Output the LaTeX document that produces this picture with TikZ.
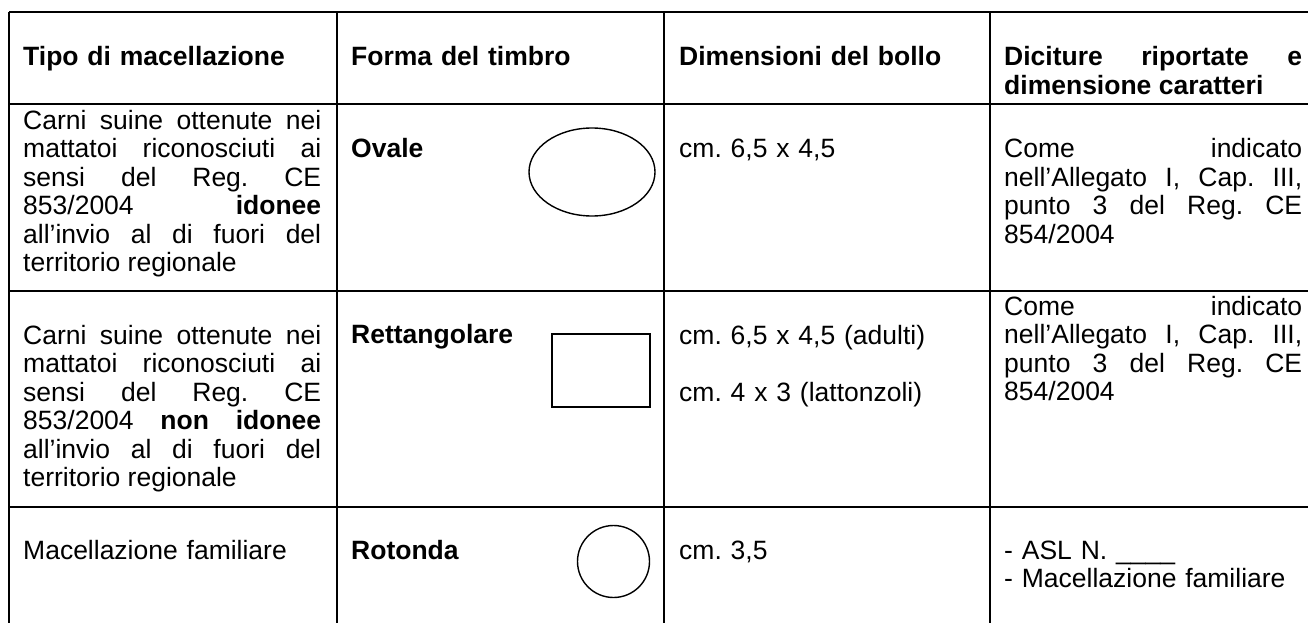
\documentclass[tikz,border=0pt]{standalone}
\usepackage{fontspec}
\setmainfont{Liberation Sans}
\usetikzlibrary{shapes.geometric}
\tolerance=10000
\frenchspacing
\definecolor{rulegray}{RGB}{0,0,0}

\begin{document}
\begin{tikzpicture}[x=1pt, y=-1pt,
    cell/.style={anchor=base west, inner sep=0pt, text width=298pt, align=left,
                 font=\fontsize{26.5}{28.5}\selectfont},
    head/.style={cell, font=\fontsize{26.5}{28.5}\selectfont\bfseries},
    para/.style={cell, align=justify},
    stamp/.style={draw=rulegray, line width=1.4pt, inner sep=0pt}]
    \useasboundingbox (0,0) rectangle (1308,623);

    % Grid
    \foreach \y in {12,104,291,507} {
        \draw[rulegray, line width=2pt] (9,\y) -- (1308,\y);
    }
    \foreach \x in {9,337,664,990} {
        \draw[rulegray, line width=2pt] (\x,12) -- (\x,623);
    }

    % Header
    \node[head] (htipo) at (23,66) {Tipo di macellazione};
    \node[head] (hforma) at (351,66) {Forma del timbro};
    \node[head] (hdim) at (679,66) {Dimensioni del bollo};
    \node[head, align=justify] (hdic) at (1004,66) {Diciture riportate e\linebreak dimensione caratteri};

    % Row 1
    \node[para] (tipoA) at (23,129) {Carni suine ottenute nei\linebreak
        mattatoi riconosciuti ai\linebreak sensi del Reg. CE\linebreak
        853/2004 \textbf{idonee}\linebreak all’invio al di fuori del\linebreak
        territorio regionale};
    \node[head] (formaA) at (351,157.5) {Ovale};
    \node[stamp, ellipse, minimum width=126pt, minimum height=88pt] (ovale) at (592,172) {};
    \node[cell] (dimA) at (679,157.5) {cm. 6,5 x 4,5};
    \node[para] (dicA) at (1004,157.5) {Come indicato\linebreak
        nell’Allegato I, Cap. III,\linebreak punto 3 del Reg. CE\linebreak 854/2004};

    % Row 2
    \node[para] (tipoB) at (23,344) {Carni suine ottenute nei\linebreak
        mattatoi riconosciuti ai\linebreak sensi del Reg. CE\linebreak
        853/2004 \textbf{non idonee}\linebreak all’invio al di fuori del\linebreak
        territorio regionale};
    \node[head] (formaB) at (351,343) {Rettangolare};
    \node[stamp, rectangle, minimum width=98pt, minimum height=73pt] (rettangolo) at (601,370.5) {};
    \node[cell] (dimB) at (679,344) {cm. 6,5 x 4,5 (adulti)\\[28.5pt]cm. 4 x 3 (lattonzoli)};
    \node[para] (dicB) at (1004,315) {Come indicato\linebreak
        nell’Allegato I, Cap. III,\linebreak punto 3 del Reg. CE\linebreak 854/2004};

    % Row 3
    \node[cell] (tipoC) at (23,559) {Macellazione familiare};
    \node[head] (formaC) at (351,559) {Rotonda};
    \node[stamp, circle, minimum size=72pt] (rotonda) at (613.5,561.5) {};
    \node[cell] (dimC) at (679,559) {cm. 3,5};
    \node[cell] (dicC) at (1004,559) {- ASL N. \_\_\_\_\\- Macellazione familiare};
\end{tikzpicture}
\end{document}
